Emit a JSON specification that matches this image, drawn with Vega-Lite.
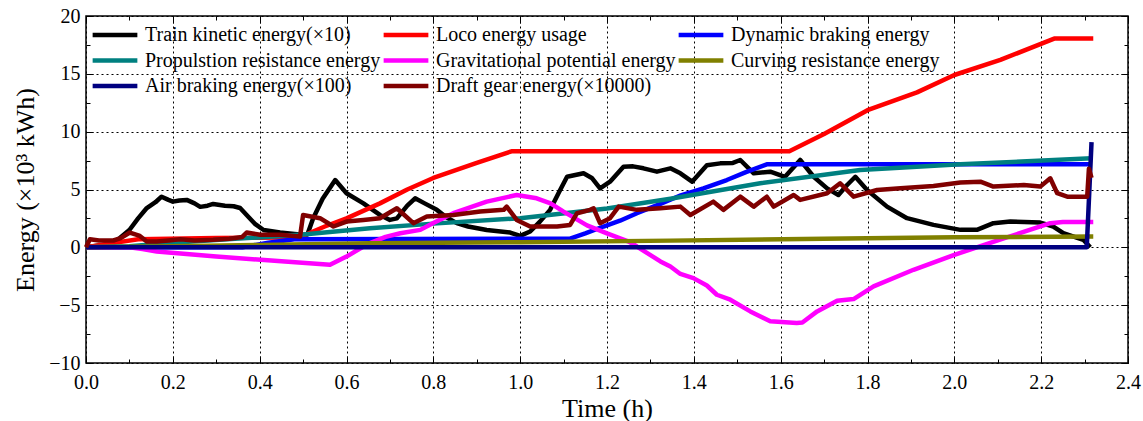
{
  "$schema": "https://vega.github.io/schema/vega-lite/v6.json",
  "width": 1042,
  "height": 347,
  "autosize": {"type": "none"},
  "padding": {"left": 86, "top": 16, "right": 15, "bottom": 58},
  "background": "white",
  "config": {"view": {"stroke": "#000", "strokeWidth": 1.5}, "font": "Liberation Serif"},
  "data": {"values": [
    {"s":"Train kinetic energy(×10)","t":0,"e":0},{"s":"Train kinetic energy(×10)","t":0.03,"e":0.15},{"s":"Train kinetic energy(×10)","t":0.06,"e":0.35},{"s":"Train kinetic energy(×10)","t":0.078,"e":0.8},{"s":"Train kinetic energy(×10)","t":0.1,"e":1.5},{"s":"Train kinetic energy(×10)","t":0.12,"e":2.5},{"s":"Train kinetic energy(×10)","t":0.14,"e":3.4},{"s":"Train kinetic energy(×10)","t":0.16,"e":3.9},{"s":"Train kinetic energy(×10)","t":0.174,"e":4.38},{"s":"Train kinetic energy(×10)","t":0.19,"e":4.1},{"s":"Train kinetic energy(×10)","t":0.2,"e":3.95},{"s":"Train kinetic energy(×10)","t":0.215,"e":4.05},{"s":"Train kinetic energy(×10)","t":0.232,"e":4.1},{"s":"Train kinetic energy(×10)","t":0.25,"e":3.8},{"s":"Train kinetic energy(×10)","t":0.263,"e":3.5},{"s":"Train kinetic energy(×10)","t":0.28,"e":3.6},{"s":"Train kinetic energy(×10)","t":0.293,"e":3.75},{"s":"Train kinetic energy(×10)","t":0.32,"e":3.6},{"s":"Train kinetic energy(×10)","t":0.34,"e":3.55},{"s":"Train kinetic energy(×10)","t":0.355,"e":3.4},{"s":"Train kinetic energy(×10)","t":0.37,"e":2.8},{"s":"Train kinetic energy(×10)","t":0.39,"e":2.0},{"s":"Train kinetic energy(×10)","t":0.409,"e":1.5},{"s":"Train kinetic energy(×10)","t":0.447,"e":1.28},{"s":"Train kinetic energy(×10)","t":0.48,"e":1.15},{"s":"Train kinetic energy(×10)","t":0.5,"e":1.08},{"s":"Train kinetic energy(×10)","t":0.51,"e":1.1},{"s":"Train kinetic energy(×10)","t":0.523,"e":2.5},{"s":"Train kinetic energy(×10)","t":0.545,"e":4.2},{"s":"Train kinetic energy(×10)","t":0.574,"e":5.82},{"s":"Train kinetic energy(×10)","t":0.6,"e":4.68},{"s":"Train kinetic energy(×10)","t":0.639,"e":3.8},{"s":"Train kinetic energy(×10)","t":0.677,"e":2.8},{"s":"Train kinetic energy(×10)","t":0.7,"e":2.37},{"s":"Train kinetic energy(×10)","t":0.716,"e":2.5},{"s":"Train kinetic energy(×10)","t":0.74,"e":3.6},{"s":"Train kinetic energy(×10)","t":0.758,"e":4.24},{"s":"Train kinetic energy(×10)","t":0.78,"e":3.8},{"s":"Train kinetic energy(×10)","t":0.808,"e":3.24},{"s":"Train kinetic energy(×10)","t":0.83,"e":2.6},{"s":"Train kinetic energy(×10)","t":0.854,"e":2.09},{"s":"Train kinetic energy(×10)","t":0.88,"e":1.8},{"s":"Train kinetic energy(×10)","t":0.923,"e":1.5},{"s":"Train kinetic energy(×10)","t":0.977,"e":1.28},{"s":"Train kinetic energy(×10)","t":1.0,"e":0.99},{"s":"Train kinetic energy(×10)","t":1.023,"e":1.37},{"s":"Train kinetic energy(×10)","t":1.045,"e":2.2},{"s":"Train kinetic energy(×10)","t":1.069,"e":3.24},{"s":"Train kinetic energy(×10)","t":1.09,"e":4.8},{"s":"Train kinetic energy(×10)","t":1.108,"e":6.1},{"s":"Train kinetic energy(×10)","t":1.146,"e":6.4},{"s":"Train kinetic energy(×10)","t":1.165,"e":6.0},{"s":"Train kinetic energy(×10)","t":1.184,"e":5.1},{"s":"Train kinetic energy(×10)","t":1.207,"e":5.68},{"s":"Train kinetic energy(×10)","t":1.238,"e":6.97},{"s":"Train kinetic energy(×10)","t":1.26,"e":7.0},{"s":"Train kinetic energy(×10)","t":1.284,"e":6.83},{"s":"Train kinetic energy(×10)","t":1.315,"e":6.54},{"s":"Train kinetic energy(×10)","t":1.346,"e":6.83},{"s":"Train kinetic energy(×10)","t":1.369,"e":6.4},{"s":"Train kinetic energy(×10)","t":1.396,"e":5.68},{"s":"Train kinetic energy(×10)","t":1.43,"e":7.1},{"s":"Train kinetic energy(×10)","t":1.461,"e":7.26},{"s":"Train kinetic energy(×10)","t":1.49,"e":7.3},{"s":"Train kinetic energy(×10)","t":1.507,"e":7.55},{"s":"Train kinetic energy(×10)","t":1.538,"e":6.4},{"s":"Train kinetic energy(×10)","t":1.576,"e":6.54},{"s":"Train kinetic energy(×10)","t":1.61,"e":6.1},{"s":"Train kinetic energy(×10)","t":1.645,"e":7.55},{"s":"Train kinetic energy(×10)","t":1.676,"e":6.1},{"s":"Train kinetic energy(×10)","t":1.707,"e":5.1},{"s":"Train kinetic energy(×10)","t":1.733,"e":4.53},{"s":"Train kinetic energy(×10)","t":1.753,"e":5.39},{"s":"Train kinetic energy(×10)","t":1.772,"e":6.1},{"s":"Train kinetic energy(×10)","t":1.799,"e":4.96},{"s":"Train kinetic energy(×10)","t":1.845,"e":3.52},{"s":"Train kinetic energy(×10)","t":1.891,"e":2.52},{"s":"Train kinetic energy(×10)","t":1.952,"e":1.94},{"s":"Train kinetic energy(×10)","t":2.014,"e":1.51},{"s":"Train kinetic energy(×10)","t":2.052,"e":1.51},{"s":"Train kinetic energy(×10)","t":2.09,"e":2.09},{"s":"Train kinetic energy(×10)","t":2.129,"e":2.23},{"s":"Train kinetic energy(×10)","t":2.198,"e":2.14},{"s":"Train kinetic energy(×10)","t":2.228,"e":1.8},{"s":"Train kinetic energy(×10)","t":2.251,"e":1.22},{"s":"Train kinetic energy(×10)","t":2.297,"e":0.65},{"s":"Train kinetic energy(×10)","t":2.313,"e":0},
    {"s":"Loco energy usage","t":0,"e":0},{"s":"Loco energy usage","t":0.05,"e":0.3},{"s":"Loco energy usage","t":0.12,"e":0.7},{"s":"Loco energy usage","t":0.3,"e":0.8},{"s":"Loco energy usage","t":0.45,"e":0.85},{"s":"Loco energy usage","t":0.5,"e":1.0},{"s":"Loco energy usage","t":0.55,"e":1.8},{"s":"Loco energy usage","t":0.6,"e":2.5},{"s":"Loco energy usage","t":0.677,"e":3.8},{"s":"Loco energy usage","t":0.74,"e":5.0},{"s":"Loco energy usage","t":0.8,"e":6.0},{"s":"Loco energy usage","t":0.9,"e":7.3},{"s":"Loco energy usage","t":0.98,"e":8.3},{"s":"Loco energy usage","t":1.62,"e":8.3},{"s":"Loco energy usage","t":1.7,"e":9.8},{"s":"Loco energy usage","t":1.8,"e":11.86},{"s":"Loco energy usage","t":1.914,"e":13.4},{"s":"Loco energy usage","t":2.0,"e":14.9},{"s":"Loco energy usage","t":2.106,"e":16.2},{"s":"Loco energy usage","t":2.23,"e":18.05},{"s":"Loco energy usage","t":2.32,"e":18.05},
    {"s":"Dynamic braking energy","t":0,"e":0},{"s":"Dynamic braking energy","t":0.36,"e":0},{"s":"Dynamic braking energy","t":0.42,"e":0.4},{"s":"Dynamic braking energy","t":0.48,"e":0.7},{"s":"Dynamic braking energy","t":1.115,"e":0.75},{"s":"Dynamic braking energy","t":1.15,"e":1.2},{"s":"Dynamic braking energy","t":1.192,"e":1.8},{"s":"Dynamic braking energy","t":1.23,"e":2.3},{"s":"Dynamic braking energy","t":1.269,"e":2.95},{"s":"Dynamic braking energy","t":1.323,"e":3.75},{"s":"Dynamic braking energy","t":1.37,"e":4.5},{"s":"Dynamic braking energy","t":1.422,"e":5.1},{"s":"Dynamic braking energy","t":1.476,"e":5.82},{"s":"Dynamic braking energy","t":1.52,"e":6.5},{"s":"Dynamic braking energy","t":1.568,"e":7.18},{"s":"Dynamic braking energy","t":2.312,"e":7.18},
    {"s":"Propulstion resistance energy","t":0,"e":0},{"s":"Propulstion resistance energy","t":0.1,"e":0.1},{"s":"Propulstion resistance energy","t":0.2,"e":0.4},{"s":"Propulstion resistance energy","t":0.37,"e":0.8},{"s":"Propulstion resistance energy","t":0.5,"e":1.1},{"s":"Propulstion resistance energy","t":0.654,"e":1.65},{"s":"Propulstion resistance energy","t":0.8,"e":2.05},{"s":"Propulstion resistance energy","t":1.0,"e":2.52},{"s":"Propulstion resistance energy","t":1.2,"e":3.35},{"s":"Propulstion resistance energy","t":1.346,"e":4.2},{"s":"Propulstion resistance energy","t":1.553,"e":5.54},{"s":"Propulstion resistance energy","t":1.783,"e":6.69},{"s":"Propulstion resistance energy","t":2.014,"e":7.18},{"s":"Propulstion resistance energy","t":2.316,"e":7.7},
    {"s":"Gravitational potential energy","t":0,"e":0},{"s":"Gravitational potential energy","t":0.1,"e":0},{"s":"Gravitational potential energy","t":0.13,"e":-0.15},{"s":"Gravitational potential energy","t":0.163,"e":-0.36},{"s":"Gravitational potential energy","t":0.3,"e":-0.8},{"s":"Gravitational potential energy","t":0.45,"e":-1.2},{"s":"Gravitational potential energy","t":0.562,"e":-1.51},{"s":"Gravitational potential energy","t":0.6,"e":-0.8},{"s":"Gravitational potential energy","t":0.639,"e":0.07},{"s":"Gravitational potential energy","t":0.654,"e":0.36},{"s":"Gravitational potential energy","t":0.69,"e":0.9},{"s":"Gravitational potential energy","t":0.724,"e":1.22},{"s":"Gravitational potential energy","t":0.77,"e":1.51},{"s":"Gravitational potential energy","t":0.8,"e":2.1},{"s":"Gravitational potential energy","t":0.846,"e":2.95},{"s":"Gravitational potential energy","t":0.923,"e":3.95},{"s":"Gravitational potential energy","t":0.992,"e":4.53},{"s":"Gravitational potential energy","t":1.038,"e":4.24},{"s":"Gravitational potential energy","t":1.07,"e":3.8},{"s":"Gravitational potential energy","t":1.1,"e":3.09},{"s":"Gravitational potential energy","t":1.154,"e":1.9},{"s":"Gravitational potential energy","t":1.2,"e":1.2},{"s":"Gravitational potential energy","t":1.25,"e":0.5},{"s":"Gravitational potential energy","t":1.269,"e":0.07},{"s":"Gravitational potential energy","t":1.323,"e":-1.22},{"s":"Gravitational potential energy","t":1.346,"e":-1.66},{"s":"Gravitational potential energy","t":1.369,"e":-2.3},{"s":"Gravitational potential energy","t":1.399,"e":-2.66},{"s":"Gravitational potential energy","t":1.43,"e":-3.3},{"s":"Gravitational potential energy","t":1.453,"e":-4.1},{"s":"Gravitational potential energy","t":1.484,"e":-4.53},{"s":"Gravitational potential energy","t":1.53,"e":-5.54},{"s":"Gravitational potential energy","t":1.576,"e":-6.4},{"s":"Gravitational potential energy","t":1.637,"e":-6.54},{"s":"Gravitational potential energy","t":1.65,"e":-6.5},{"s":"Gravitational potential energy","t":1.684,"e":-5.54},{"s":"Gravitational potential energy","t":1.73,"e":-4.62},{"s":"Gravitational potential energy","t":1.768,"e":-4.47},{"s":"Gravitational potential energy","t":1.814,"e":-3.38},{"s":"Gravitational potential energy","t":1.906,"e":-1.94},{"s":"Gravitational potential energy","t":2.0,"e":-0.65},{"s":"Gravitational potential energy","t":2.1,"e":0.6},{"s":"Gravitational potential energy","t":2.221,"e":2.09},{"s":"Gravitational potential energy","t":2.25,"e":2.2},{"s":"Gravitational potential energy","t":2.32,"e":2.2},
    {"s":"Curving resistance energy","t":0,"e":0},{"s":"Curving resistance energy","t":0.2,"e":0.1},{"s":"Curving resistance energy","t":0.4,"e":0.2},{"s":"Curving resistance energy","t":0.654,"e":0.35},{"s":"Curving resistance energy","t":1.0,"e":0.45},{"s":"Curving resistance energy","t":1.346,"e":0.58},{"s":"Curving resistance energy","t":1.7,"e":0.75},{"s":"Curving resistance energy","t":2.0,"e":0.88},{"s":"Curving resistance energy","t":2.32,"e":0.93},
    {"s":"Air braking energy(×100)","t":0,"e":0},{"s":"Air braking energy(×100)","t":2.305,"e":0},{"s":"Air braking energy(×100)","t":2.316,"e":9.1},
    {"s":"Draft gear energy(×10000)","t":0,"e":0},{"s":"Draft gear energy(×10000)","t":0.009,"e":0.7},{"s":"Draft gear energy(×10000)","t":0.03,"e":0.6},{"s":"Draft gear energy(×10000)","t":0.063,"e":0.59},{"s":"Draft gear energy(×10000)","t":0.08,"e":0.8},{"s":"Draft gear energy(×10000)","t":0.101,"e":1.28},{"s":"Draft gear energy(×10000)","t":0.124,"e":0.99},{"s":"Draft gear energy(×10000)","t":0.14,"e":0.5},{"s":"Draft gear energy(×10000)","t":0.163,"e":0.5},{"s":"Draft gear energy(×10000)","t":0.19,"e":0.6},{"s":"Draft gear energy(×10000)","t":0.217,"e":0.7},{"s":"Draft gear energy(×10000)","t":0.25,"e":0.6},{"s":"Draft gear energy(×10000)","t":0.293,"e":0.65},{"s":"Draft gear energy(×10000)","t":0.33,"e":0.75},{"s":"Draft gear energy(×10000)","t":0.36,"e":0.9},{"s":"Draft gear energy(×10000)","t":0.37,"e":1.28},{"s":"Draft gear energy(×10000)","t":0.401,"e":1.08},{"s":"Draft gear energy(×10000)","t":0.447,"e":1.08},{"s":"Draft gear energy(×10000)","t":0.493,"e":0.93},{"s":"Draft gear energy(×10000)","t":0.497,"e":2.0},{"s":"Draft gear energy(×10000)","t":0.5,"e":2.8},{"s":"Draft gear energy(×10000)","t":0.539,"e":2.52},{"s":"Draft gear energy(×10000)","t":0.57,"e":1.8},{"s":"Draft gear energy(×10000)","t":0.6,"e":2.23},{"s":"Draft gear energy(×10000)","t":0.639,"e":2.37},{"s":"Draft gear energy(×10000)","t":0.677,"e":2.52},{"s":"Draft gear energy(×10000)","t":0.716,"e":3.38},{"s":"Draft gear energy(×10000)","t":0.754,"e":2.09},{"s":"Draft gear energy(×10000)","t":0.785,"e":2.66},{"s":"Draft gear energy(×10000)","t":0.846,"e":2.8},{"s":"Draft gear energy(×10000)","t":0.908,"e":3.09},{"s":"Draft gear energy(×10000)","t":0.962,"e":3.24},{"s":"Draft gear energy(×10000)","t":0.969,"e":3.52},{"s":"Draft gear energy(×10000)","t":0.992,"e":2.37},{"s":"Draft gear energy(×10000)","t":1.023,"e":1.8},{"s":"Draft gear energy(×10000)","t":1.085,"e":1.8},{"s":"Draft gear energy(×10000)","t":1.115,"e":1.94},{"s":"Draft gear energy(×10000)","t":1.131,"e":2.95},{"s":"Draft gear energy(×10000)","t":1.161,"e":3.24},{"s":"Draft gear energy(×10000)","t":1.169,"e":3.38},{"s":"Draft gear energy(×10000)","t":1.184,"e":2.09},{"s":"Draft gear energy(×10000)","t":1.207,"e":2.52},{"s":"Draft gear energy(×10000)","t":1.227,"e":3.52},{"s":"Draft gear energy(×10000)","t":1.269,"e":3.24},{"s":"Draft gear energy(×10000)","t":1.323,"e":3.38},{"s":"Draft gear energy(×10000)","t":1.369,"e":3.52},{"s":"Draft gear energy(×10000)","t":1.392,"e":2.8},{"s":"Draft gear energy(×10000)","t":1.445,"e":3.95},{"s":"Draft gear energy(×10000)","t":1.468,"e":3.24},{"s":"Draft gear energy(×10000)","t":1.507,"e":4.38},{"s":"Draft gear energy(×10000)","t":1.538,"e":3.52},{"s":"Draft gear energy(×10000)","t":1.568,"e":4.38},{"s":"Draft gear energy(×10000)","t":1.584,"e":3.52},{"s":"Draft gear energy(×10000)","t":1.63,"e":4.53},{"s":"Draft gear energy(×10000)","t":1.645,"e":4.1},{"s":"Draft gear energy(×10000)","t":1.707,"e":4.68},{"s":"Draft gear energy(×10000)","t":1.737,"e":5.54},{"s":"Draft gear energy(×10000)","t":1.768,"e":4.38},{"s":"Draft gear energy(×10000)","t":1.822,"e":4.96},{"s":"Draft gear energy(×10000)","t":1.876,"e":5.1},{"s":"Draft gear energy(×10000)","t":1.952,"e":5.3},{"s":"Draft gear energy(×10000)","t":2.014,"e":5.6},{"s":"Draft gear energy(×10000)","t":2.06,"e":5.68},{"s":"Draft gear energy(×10000)","t":2.09,"e":5.25},{"s":"Draft gear energy(×10000)","t":2.16,"e":5.39},{"s":"Draft gear energy(×10000)","t":2.198,"e":5.25},{"s":"Draft gear energy(×10000)","t":2.221,"e":5.97},{"s":"Draft gear energy(×10000)","t":2.237,"e":4.68},{"s":"Draft gear energy(×10000)","t":2.26,"e":4.38},{"s":"Draft gear energy(×10000)","t":2.306,"e":4.38},{"s":"Draft gear energy(×10000)","t":2.31,"e":6.8},{"s":"Draft gear energy(×10000)","t":2.316,"e":6.0}
  ]},
  "resolve": {"axis": {"x": "independent", "y": "independent"}},
  "layer": [
    {
      "mark": {"type": "line", "strokeWidth": 4.5, "strokeJoin": "round"},
      "encoding": {
        "x": {"field": "t", "type": "quantitative", "scale": {"domain": [0, 2.4], "nice": false, "zero": false},
          "axis": {"orient": "bottom", "values": [0, 0.2, 0.4, 0.6, 0.8, 1.0, 1.2, 1.4, 1.6, 1.8, 2.0, 2.2, 2.4], "format": ".1f", "title": "Time (h)",
            "grid": true, "gridDash": [2, 3], "gridColor": "#000", "gridWidth": 1, "domain": false,
            "tickSize": -7, "tickColor": "#000", "tickWidth": 1, "labelPadding": 16, "labelFlush": false, "labelOverlap": false,
            "labelFont": "Liberation Serif", "labelFontSize": 20, "labelColor": "#000",
            "titleFont": "Liberation Serif", "titleFontSize": 26, "titleFontWeight": "normal", "titleColor": "#000", "titlePadding": 3}},
        "y": {"field": "e", "type": "quantitative", "scale": {"domain": [-10, 20], "nice": false, "zero": false},
          "axis": {"orient": "left", "values": [-10, -5, 0, 5, 10, 15, 20], "title": "Energy (×10³ kWh)",
            "grid": true, "gridDash": [2, 3], "gridColor": "#000", "gridWidth": 1, "domain": false,
            "tickSize": -7, "tickColor": "#000", "tickWidth": 1, "labelPadding": 13, "labelFlush": false, "labelOverlap": false,
            "labelFont": "Liberation Serif", "labelFontSize": 20, "labelColor": "#000",
            "titleFont": "Liberation Serif", "titleFontSize": 26, "titleFontWeight": "normal", "titleColor": "#000", "titlePadding": 10}},
        "color": {"field": "s", "type": "nominal",
          "scale": {"domain": ["Train kinetic energy(×10)", "Loco energy usage", "Dynamic braking energy", "Propulstion resistance energy", "Gravitational potential energy", "Curving resistance energy", "Air braking energy(×100)", "Draft gear energy(×10000)"],
            "range": ["#000000", "#ff0000", "#0000ff", "#008080", "#ff00ff", "#808000", "#000080", "#800000"]},
          "legend": {"orient": "none", "legendX": 4, "legendY": 9, "columns": 3, "direction": "horizontal", "title": null, "padding": 0,
            "symbolType": "stroke", "symbolSize": 2000, "symbolStrokeWidth": 4.5, "clipHeight": 20,
            "rowPadding": 5.5, "columnPadding": 0, "labelOffset": 5, "labelLimit": 400,
            "labelFont": "Liberation Serif", "labelFontSize": 20, "labelColor": "#000"}}
      }
    },
    {
      "mark": {"type": "point", "opacity": 0},
      "encoding": {
        "x": {"field": "t", "type": "quantitative", "scale": {"domain": [0, 2.4], "nice": false, "zero": false},
          "axis": {"orient": "bottom", "values": [0.1, 0.3, 0.5, 0.7, 0.9, 1.1, 1.3, 1.5, 1.7, 1.9, 2.1, 2.3], "labels": false, "title": null, "grid": false, "domain": false, "tickSize": -4, "tickColor": "#000", "tickWidth": 1}},
        "y": {"field": "e", "type": "quantitative", "scale": {"domain": [-10, 20], "nice": false, "zero": false},
          "axis": {"orient": "left", "values": [-7.5, -2.5, 2.5, 7.5, 12.5, 17.5], "labels": false, "title": null, "grid": false, "domain": false, "tickSize": -4, "tickColor": "#000", "tickWidth": 1}}
      }
    },
    {
      "mark": {"type": "point", "opacity": 0},
      "encoding": {
        "x": {"field": "t", "type": "quantitative", "scale": {"domain": [0, 2.4], "nice": false, "zero": false},
          "axis": {"orient": "top", "values": [0, 0.2, 0.4, 0.6, 0.8, 1.0, 1.2, 1.4, 1.6, 1.8, 2.0, 2.2, 2.4], "labels": false, "title": null, "grid": false, "domain": false, "tickSize": -7, "tickColor": "#000", "tickWidth": 1}},
        "y": {"field": "e", "type": "quantitative", "scale": {"domain": [-10, 20], "nice": false, "zero": false},
          "axis": {"orient": "right", "values": [-10, -5, 0, 5, 10, 15, 20], "labels": false, "title": null, "grid": false, "domain": false, "tickSize": -7, "tickColor": "#000", "tickWidth": 1}}
      }
    },
    {
      "mark": {"type": "point", "opacity": 0},
      "encoding": {
        "x": {"field": "t", "type": "quantitative", "scale": {"domain": [0, 2.4], "nice": false, "zero": false},
          "axis": {"orient": "top", "values": [0.1, 0.3, 0.5, 0.7, 0.9, 1.1, 1.3, 1.5, 1.7, 1.9, 2.1, 2.3], "labels": false, "title": null, "grid": false, "domain": false, "tickSize": -4, "tickColor": "#000", "tickWidth": 1}},
        "y": {"field": "e", "type": "quantitative", "scale": {"domain": [-10, 20], "nice": false, "zero": false},
          "axis": {"orient": "right", "values": [-7.5, -2.5, 2.5, 7.5, 12.5, 17.5], "labels": false, "title": null, "grid": false, "domain": false, "tickSize": -4, "tickColor": "#000", "tickWidth": 1}}
      }
    }
  ]
}
